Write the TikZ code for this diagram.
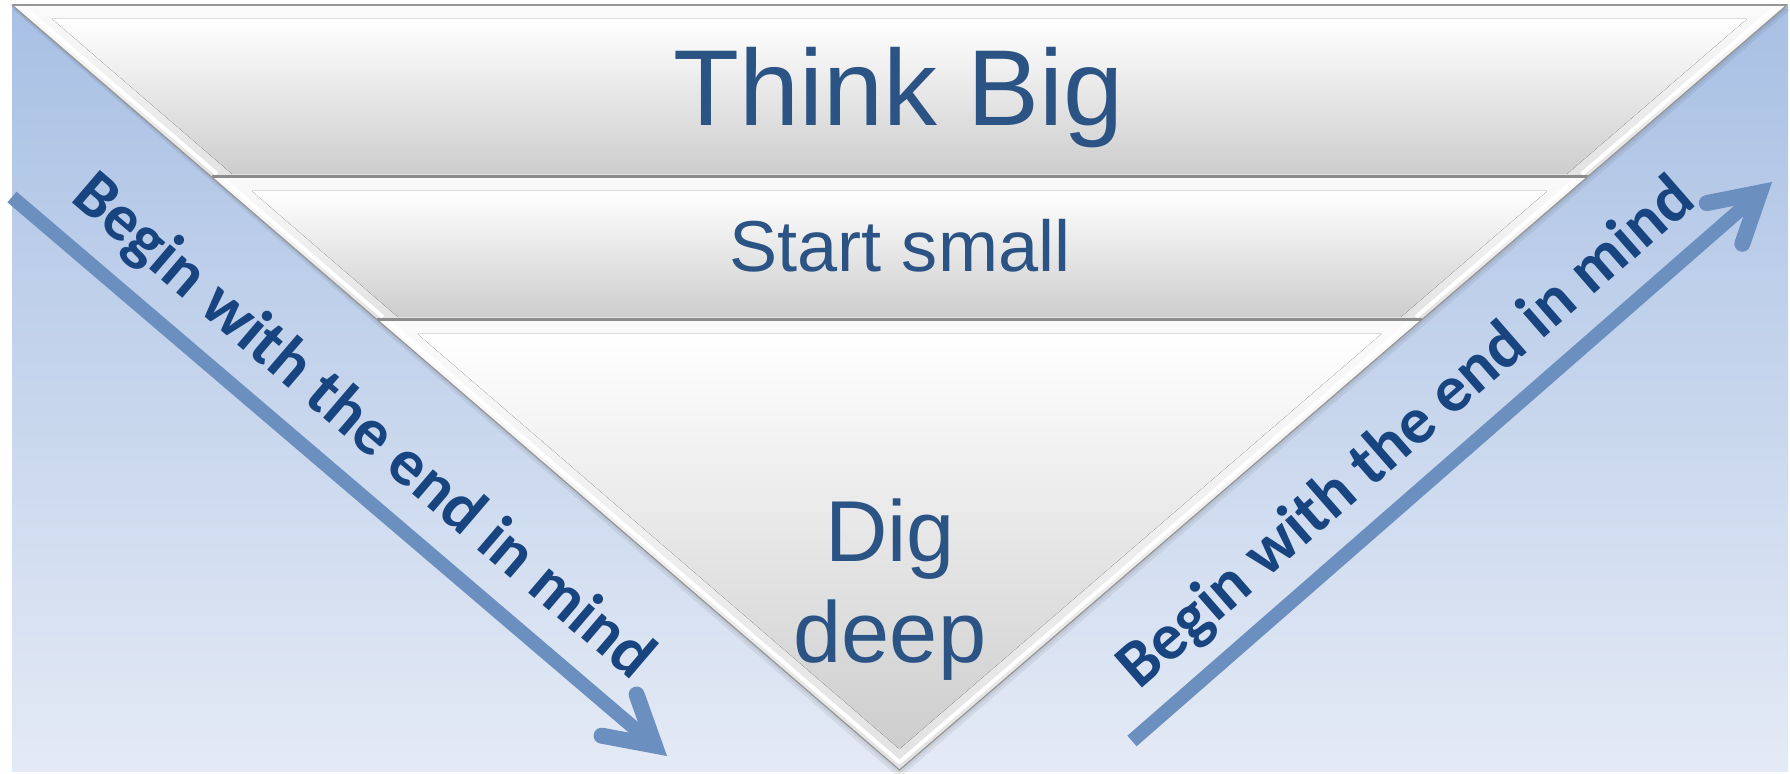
\documentclass[tikz,border=0pt]{standalone}
\usepackage{fontspec}
\setmainfont{Liberation Sans}
\newfontfamily\sidefont{Carlito}
\usetikzlibrary{calc}
\definecolor{bgtop}{RGB}{168,192,228}
\definecolor{bgbot}{RGB}{228,234,245}
\definecolor{arrowblue}{RGB}{107,143,191}
\definecolor{txtblue}{RGB}{43,84,133}
\definecolor{sideblue}{RGB}{24,68,128}
\definecolor{edgegrey}{RGB}{150,150,150}
\definecolor{sepgrey}{RGB}{140,140,140}
\definecolor{facemid}{RGB}{238,238,238}
\definecolor{facebot}{RGB}{205,205,205}
\definecolor{bevtop}{RGB}{250,250,250}
\definecolor{bevbot}{RGB}{226,226,226}
\begin{document}
\begin{tikzpicture}[x=0.01cm,y=-0.01cm,
  bandouter/.style={top color=bevtop,bottom color=bevbot},
  bandface/.style={top color=white,middle color=facemid,bottom color=facebot},
  hilite/.style={draw=white,line width=0.04cm,line join=round},
  sepline/.style={draw=sepgrey,line width=0.03cm},
  outline/.style={draw=edgegrey,line width=0.012cm,line join=miter},
  bigtxt/.style={text=txtblue,font=\fontsize{30.7pt}{36pt}\selectfont,inner sep=0pt},
  midtxt/.style={text=txtblue,font=\fontsize{20.5pt}{24pt}\selectfont,inner sep=0pt},
  digtxt/.style={text=txtblue,font=\fontsize{24.6pt}{28.7pt}\selectfont,inner sep=0pt},
  sidetxt/.style={text=sideblue,font=\sidefont\bfseries\fontsize{18.8pt}{22pt}\selectfont,inner sep=0pt},
  shaft/.style={draw=arrowblue,line width=0.14cm,line cap=butt},
  chevron/.style={draw=arrowblue,line width=0.16cm,line cap=round,line join=miter}
]
\useasboundingbox (0,0) rectangle (1790,774);
% background
\fill[top color=bgtop,bottom color=bgbot] (12,5) rectangle (1788,772);
% soft shadow of the triangle
\fill[black,opacity=0.06] (12,9) -- (1791,9) -- (899.5,778) -- cycle;
\fill[black,opacity=0.06] (12,7) -- (1789,7) -- (899.5,774) -- cycle;
% band 1
\fill[bandouter] (12,5) -- (1787,5) -- (1587.5,177) -- (211.5,177) -- cycle;
\fill[bandface] (52.2,19) -- (1746.8,19) -- (1566.9,174) -- (232.1,174) -- cycle;
\draw[hilite] (24.5,8) -- (217.1,174);
\draw[hilite] (1774.5,8) -- (1581.9,174);
% band 2
\fill[bandouter] (211.5,177) -- (1587.5,177) -- (1421.6,320) -- (377.4,320) -- cycle;
\fill[bandface] (251.8,191) -- (1547.2,191) -- (1401,317) -- (398,317) -- cycle;
\draw[hilite] (224,180) -- (383,317);
\draw[hilite] (1575,180) -- (1416,317);
% band 3
\fill[bandouter] (377.4,320) -- (1421.6,320) -- (899.5,770) -- cycle;
\fill[top color=white,bottom color=facebot] (417.7,334) -- (1381.3,334) -- (899.5,749) -- cycle;
\draw[hilite] (389.9,323) -- (899.5,762.2) -- (1409.1,323);
% separators and edges
\draw[sepline] (211.5,177) -- (1587.5,177);
\draw[sepline] (377.4,320) -- (1421.6,320);
\draw[draw=edgegrey,line width=0.02cm] (12,5) -- (1787,5);
\draw[outline] (12,5) -- (899.5,770) -- (1787,5);
% texts
\node[bigtxt,anchor=base] (think) at (899,126) {Think Big};
\node[midtxt,anchor=base] (start) at (900,272) {Start small};
\node[digtxt,anchor=base] (dig) at (890,562) {Dig};
\node[digtxt,anchor=base] (deep) at (890,663) {deep};
% arrows
\coordinate (lstart) at (12,197);
\coordinate (ltip) at (667,756);
\coordinate (rstart) at (1132,741);
\coordinate (rtip) at (1772,182);
\draw[shaft] (lstart) -- ($(ltip)!0.16cm!(lstart)$);
\draw[chevron] ($(ltip)!0.685cm!23.2:(lstart)$) -- ($(ltip)!0.16cm!(lstart)$) -- ($(ltip)!0.685cm!-23.2:(lstart)$);
\draw[shaft] (rstart) -- ($(rtip)!0.16cm!(rstart)$);
\draw[chevron] ($(rtip)!0.685cm!23.2:(rstart)$) -- ($(rtip)!0.16cm!(rstart)$) -- ($(rtip)!0.685cm!-23.2:(rstart)$);
% side texts
\node[sidetxt,rotate=-40.5] (lefttxt) at (362,428) {Begin with the end in mind};
\node[sidetxt,rotate=41.1] (righttxt) at (1407,434) {Begin with the end in mind};
\end{tikzpicture}
\end{document}
